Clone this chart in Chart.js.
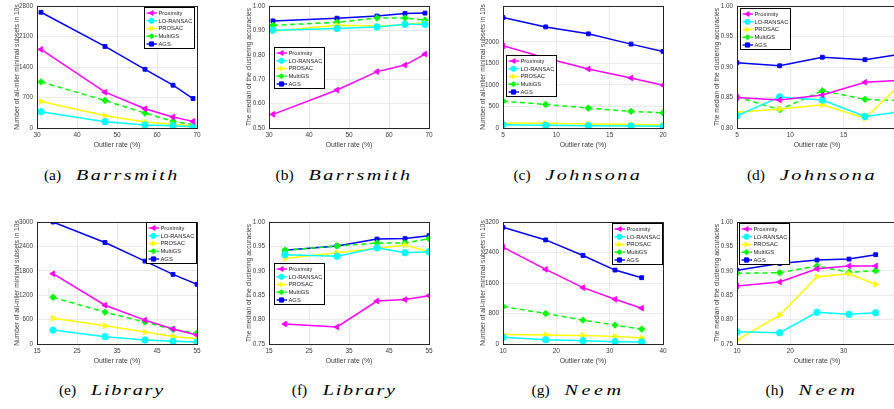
<!DOCTYPE html>
<html><head><meta charset="utf-8">
<script src="https://cdn.jsdelivr.net/npm/chart.js@4.4.0/dist/chart.umd.min.js"></script>
<style>
html,body{margin:0;padding:0;background:#fff;width:894px;height:409px;overflow:hidden;position:relative}
canvas{position:absolute}
.cap{position:absolute;font-family:'Liberation Serif','Times New Roman',serif;font-size:15.5px;line-height:16px;color:#000;white-space:nowrap;transform:translateX(-50%)}
.cap .nm{display:inline-block;font-style:italic;font-size:15.5px;margin-left:15px;transform-origin:0 50%}
</style></head><body>
<script>
// ---------------- data ----------------
const seriesNames = ['Proximity','LO-RANSAC','PROSAC','MultiGS','AGS'];

const barrsmithX = [31,47,57,64,69];
const barrsmithCount = [
  [1804, 822, 441, 251, 152],
  [373, 145, 68, 53, 30],
  [609, 282, 137, 84, 53],
  [1058, 632, 342, 152, 76],
  [2656, 1872, 1347, 982, 677]
];
const barrsmithAcc = [
  [0.556, 0.656, 0.731, 0.758, 0.803],
  [0.901, 0.908, 0.914, 0.925, 0.925],
  [0.897, 0.921, 0.918, 0.923, 0.932],
  [0.921, 0.933, 0.951, 0.951, 0.942],
  [0.939, 0.950, 0.959, 0.969, 0.971]
];

const johnsonaX = [5,9,13,17,20];
const johnsonaCount = [
  [1907, 1623, 1369, 1161, 992],
  [77, 62, 54, 46, 38],
  [115, 108, 92, 85, 69],
  [623, 546, 461, 385, 354],
  [2561, 2345, 2184, 1946, 1777]
];
const johnsonaAcc = [
  [0.850, 0.846, 0.854, 0.875, 0.878],
  [0.820, 0.851, 0.846, 0.819, 0.826],
  [0.826, 0.831, 0.838, 0.816, 0.866],
  [0.851, 0.830, 0.861, 0.847, 0.845],
  [0.907, 0.902, 0.916, 0.912, 0.920]
];

const libraryX = [19,32,42,49,55];
const libraryCount = [
  [1728, 954, 587, 367, 220],
  [342, 179, 98, 65, 49],
  [636, 448, 293, 187, 130],
  [1149, 783, 538, 359, 269],
  [3000, 2495, 2038, 1712, 1467]
];
const libraryAcc = [
  [0.791, 0.785, 0.838, 0.841, 0.849],
  [0.933, 0.930, 0.947, 0.937, 0.939],
  [0.925, 0.937, 0.946, 0.953, 0.939],
  [0.942, 0.951, 0.957, 0.957, 0.966],
  [0.942, 0.951, 0.965, 0.966, 0.972]
];

const neemX = [10,18,25,31,36];
const neemCount = [
  [2539, 1957, 1478, 1174, 939],
  [174, 113, 87, 61, 52],
  [252, 235, 226, 200, 157],
  [983, 800, 626, 496, 391],
  [3061, 2730, 2322, 1939, 1739]
];
const neemAcc = [
  [0.869, 0.877, 0.904, 0.910, 0.910],
  [0.775, 0.773, 0.815, 0.811, 0.814],
  [0.758, 0.809, 0.888, 0.894, 0.872],
  [0.895, 0.896, 0.910, 0.897, 0.900],
  [0.901, 0.915, 0.922, 0.924, 0.933]
];

// tick labels
const barrsmithXTicks = [30,40,50,60,70];
const johnsonaXTicks = [5,10,15,20];
const libraryXTicks = [15,25,35,45,55];
const neemXTicks = [10,20,30,40];
const barrsmithCountTicks = [0,700,1400,2100,2800];
const johnsonaCountTicks = [0,500,1000,1500,2000];
const libraryCountTicks = [0,600,1200,1800,2400,3000];
const neemCountTicks = [0,800,1600,2400,3200];
const barrsmithAccTicks = [0.50,0.60,0.70,0.80,0.90,1.00];
const johnsonaAccTicks = [0.80,0.85,0.90,0.95,1.00];
const libraryAccTicks = [0.75,0.80,0.85,0.90,0.95,1.00];
const neemAccTicks = [0.75,0.80,0.85,0.90,0.95,1.00];

const countTitle = 'Number of all-inlier minimal subsets in 10s';
const accTitle = 'The median of the clustering accuracies';
const xTitle = 'Outlier rate (%)';

// ---------------- styles / layout ----------------
const styles = [
  {color:'#ff00ff', point:'triangle', rot:-90, dash:[]},
  {color:'#00ffff', point:'circle', rot:0, dash:[]},
  {color:'#ffff00', point:'triangle', rot:90, dash:[]},
  {color:'#00ff00', point:'rectRot', rot:0, dash:[5,3.5]},
  {color:'#0000ff', point:'rect', rot:0, dash:[]}
];

const PW = 160, PH = 122, AX_W = 40, PAD_T = 8, AX_H = 32, PAD_R = 10;
const colLeft = [37, 269, 503, 737];
const rowTop = [6, 222];
const capY = [167, 382];
const NAME_STRETCH = 1.3;

const panels = [
  {x:barrsmithX, y:barrsmithCount, xt:barrsmithXTicks, yt:barrsmithCountTicks, yMax:2800, dec:0, title:countTitle, col:0,row:0, leg:[107,1], lab:'(a)', name:'Barrsmith', nw:104},
  {x:barrsmithX, y:barrsmithAcc, xt:barrsmithXTicks, yt:barrsmithAccTicks, yMax:1, dec:2, title:accTitle, col:1,row:0, leg:[5,41], lab:'(b)', name:'Barrsmith', nw:104},
  {x:johnsonaX, y:johnsonaCount, xt:johnsonaXTicks, yt:johnsonaCountTicks, yMax:2830, dec:0, title:countTitle, col:2,row:0, leg:[3,49], lab:'(c)', name:'Johnsona', nw:97},
  {x:johnsonaX, y:johnsonaAcc, xt:johnsonaXTicks, yt:johnsonaAccTicks, yMax:1, dec:2, title:accTitle, col:3,row:0, leg:[3,2], lab:'(d)', name:'Johnsona', nw:97},
  {x:libraryX, y:libraryCount, xt:libraryXTicks, yt:libraryCountTicks, yMax:3000, dec:0, title:countTitle, col:0,row:1, leg:[109,0], lab:'(e)', name:'Library', nw:74},
  {x:libraryX, y:libraryAcc, xt:libraryXTicks, yt:libraryAccTicks, yMax:1, dec:2, title:accTitle, col:1,row:1, leg:[5,41], lab:'(f)', name:'Library', nw:74},
  {x:neemX, y:neemCount, xt:neemXTicks, yt:neemCountTicks, yMax:3200, dec:0, title:countTitle, col:2,row:1, leg:[109,1], lab:'(g)', name:'Neem', nw:60},
  {x:neemX, y:neemAcc, xt:neemXTicks, yt:neemAccTicks, yMax:1, dec:2, title:accTitle, col:3,row:1, leg:[2,1], lab:'(h)', name:'Neem', nw:60}
];

const FONT = "'Liberation Sans', Arial, sans-serif";
const TXT = '#3a3a3a';

function drawMarker(ctx, style, rot, x, y, r) {
  ctx.save();
  ctx.translate(x, y);
  ctx.rotate(rot * Math.PI / 180);
  ctx.beginPath();
  if (style === 'circle') ctx.arc(0, 0, r, 0, Math.PI * 2);
  else if (style === 'rect') ctx.rect(-r * 0.8, -r * 0.8, r * 1.6, r * 1.6);
  else if (style === 'rectRot') { ctx.moveTo(0, -r); ctx.lineTo(r, 0); ctx.lineTo(0, r); ctx.lineTo(-r, 0); ctx.closePath(); }
  else { ctx.moveTo(0, -r); ctx.lineTo(r * 0.9, r * 0.6); ctx.lineTo(-r * 0.9, r * 0.6); ctx.closePath(); }
  ctx.fill();
  ctx.stroke();
  ctx.restore();
}

const framePlugin = {
  id: 'frame',
  afterDraw(chart, args, opts) {
    const {ctx, chartArea: {left, top, right, bottom}} = chart;
    ctx.save();
    ctx.strokeStyle = '#262626';
    ctx.lineWidth = 1;
    ctx.strokeRect(Math.round(left) + 0.5, Math.round(top) + 0.5, Math.round(right - left), Math.round(bottom - top));
    // legend box
    const bx = Math.round(left + opts.at[0]), by = Math.round(top + opts.at[1]);
    const bw = 50, bh = 41;
    ctx.fillStyle = '#fff';
    ctx.fillRect(bx, by, bw, bh);
    ctx.strokeStyle = '#000';
    ctx.lineWidth = 1;
    ctx.strokeRect(bx + 0.5, by + 0.5, bw, bh);
    ctx.font = '5.8px ' + FONT;
    ctx.textBaseline = 'middle';
    ctx.textAlign = 'left';
    chart.data.datasets.forEach((ds, i) => {
      const cy = by + 6 + i * 7.75;
      ctx.strokeStyle = ds.borderColor;
      ctx.lineWidth = 1.4;
      ctx.setLineDash(ds.borderDash || []);
      ctx.beginPath();
      ctx.moveTo(bx + 2.5, cy);
      ctx.lineTo(bx + 13, cy);
      ctx.stroke();
      ctx.setLineDash([]);
      ctx.fillStyle = ds.borderColor;
      ctx.lineWidth = 1;
      drawMarker(ctx, ds.pointStyle, ds.pointRotation || 0, bx + 7.5, cy, 2.6);
      ctx.fillStyle = '#222';
      ctx.fillText(ds.label, bx + 14.5, cy + 0.3);
    });
    ctx.restore();
  }
};

panels.forEach((p, k) => {
  const cv = document.createElement('canvas');
  const W = AX_W + PW + PAD_R, H = PAD_T + PH + AX_H;
  cv.width = W; cv.height = H;
  cv.style.width = W + 'px'; cv.style.height = H + 'px';
  cv.style.left = (colLeft[p.col] - AX_W) + 'px';
  cv.style.top = (rowTop[p.row] - PAD_T) + 'px';
  document.body.appendChild(cv);

  const datasets = seriesNames.map((name, i) => ({
    label: name,
    data: p.x.map((xv, j) => ({x: xv, y: p.y[i][j]})),
    borderColor: styles[i].color,
    backgroundColor: styles[i].color,
    borderWidth: 1.5,
    borderDash: styles[i].dash,
    pointStyle: styles[i].point,
    pointRotation: styles[i].rot,
    pointRadius: styles[i].point === 'rect' ? 2.7 : 3.2,
    pointBorderWidth: 1,
    tension: 0
  }));

  const xt = p.xt, yt = p.yt;
  new Chart(cv, {
    type: 'line',
    data: {datasets},
    plugins: [framePlugin],
    options: {
      responsive: false,
      animation: false,
      devicePixelRatio: 1,
      layout: {padding: {left: 0, top: PAD_T, right: PAD_R, bottom: 0}},
      plugins: {legend: {display: false}, tooltip: {enabled: false}, frame: {at: p.leg}},
      scales: {
        x: {
          type: 'linear',
          min: xt[0], max: xt[xt.length - 1],
          afterBuildTicks: s => { s.ticks = xt.map(v => ({value: v})); },
          afterFit: s => { s.height = AX_H; },
          grid: {color: '#e3e3e3', lineWidth: 0.8, drawTicks: false},
          border: {display: false},
          ticks: {padding: 3, color: TXT, font: {family: FONT, size: 6.5}, maxRotation: 0, autoSkip: false, callback: v => String(v)},
          title: {display: true, text: xTitle, color: TXT, font: {family: FONT, size: 6.9}, padding: {top: 0, bottom: 11}}
        },
        y: {
          type: 'linear',
          min: yt[0], max: p.yMax,
          afterBuildTicks: s => { s.ticks = yt.map(v => ({value: v})); },
          afterFit: s => { s.width = AX_W; },
          grid: {color: '#e3e3e3', lineWidth: 0.8, drawTicks: false},
          border: {display: false},
          ticks: {padding: 4, color: TXT, font: {family: FONT, size: 6.3}, autoSkip: false, callback: v => v.toFixed(p.dec)},
          title: {display: true, text: p.title, color: TXT, font: {family: FONT, size: 6.7}, padding: {top: 16, bottom: 0}}
        }
      }
    }
  });

  // caption
  const cap = document.createElement('div');
  cap.className = 'cap';
  cap.style.left = (colLeft[p.col] + PW / 2 - 5) + 'px';
  cap.style.top = capY[p.row] + 'px';
  const lab = document.createElement('span');
  lab.textContent = p.lab;
  const nm = document.createElement('span');
  nm.className = 'nm';
  nm.textContent = p.name;
  cap.appendChild(lab);
  cap.appendChild(nm);
  document.body.appendChild(cap);
  const natural = nm.getBoundingClientRect().width;
  const want = p.nw / NAME_STRETCH;
  const ls = Math.max(0, (want - natural) / p.name.length);
  nm.style.letterSpacing = ls.toFixed(2) + 'px';
  const w = nm.getBoundingClientRect().width;
  nm.style.transform = 'scaleX(' + NAME_STRETCH + ')';
  nm.style.marginRight = (w * (NAME_STRETCH - 1)).toFixed(1) + 'px';
});
</script>
</body></html>
